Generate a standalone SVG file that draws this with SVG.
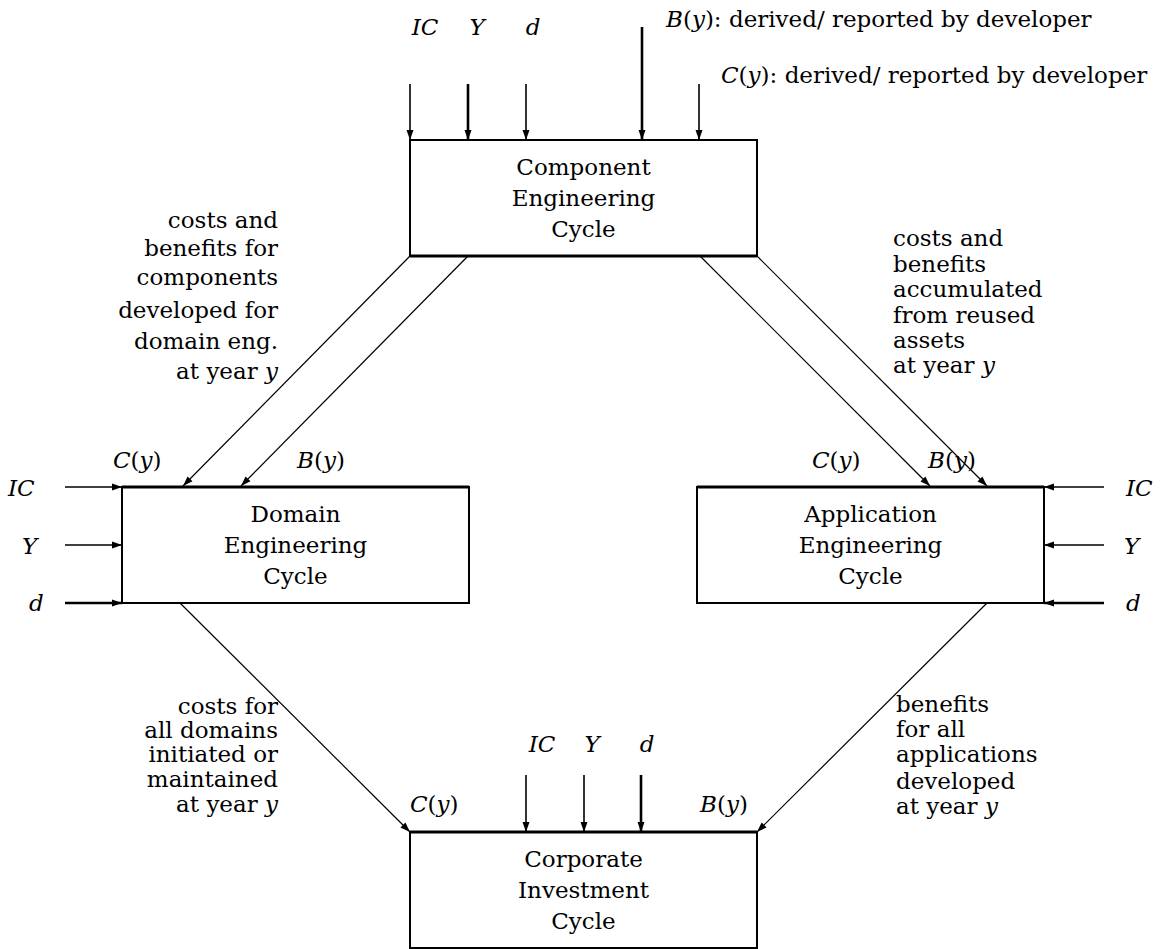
<svg xmlns="http://www.w3.org/2000/svg" width="1164" height="949" viewBox="0 0 1164 949">
<style>
text{font-family:"DejaVu Serif","Liberation Serif",serif;font-size:23px;fill:#000}
.m{font-style:italic}
.box{fill:#fff;stroke:#000;stroke-width:2}
.top{stroke:#000;stroke-width:3}
.in{stroke:#000;stroke-width:1.6;fill:none}
.thk{stroke-width:2.6}
.dg{stroke:#000;stroke-width:1.2;fill:none}
.c{text-anchor:middle}
.r{text-anchor:end}
</style>
<defs>
<marker id="ah" viewBox="0 0 10 10" refX="10" refY="5" markerWidth="10" markerHeight="10" markerUnits="userSpaceOnUse" orient="auto">
<path d="M0,1.5 L10,5 L0,8.5 Z" fill="#000"/>
</marker>
</defs>

<g id="connectors">
<line class="in" x1="410" y1="84" x2="410" y2="140" marker-end="url(#ah)"/>
<line class="in thk" x1="468" y1="84" x2="468" y2="140" marker-end="url(#ah)"/>
<line class="in" x1="526" y1="84" x2="526" y2="140" marker-end="url(#ah)"/>
<line class="in thk" x1="642" y1="27" x2="642" y2="140" marker-end="url(#ah)"/>
<line class="in" x1="699" y1="84" x2="699" y2="140" marker-end="url(#ah)"/>
<line class="dg" x1="410" y1="256" x2="183" y2="486" marker-end="url(#ah)"/>
<line class="dg" x1="468" y1="256" x2="241" y2="486" marker-end="url(#ah)"/>
<line class="dg" x1="700" y1="256" x2="930" y2="486" marker-end="url(#ah)"/>
<line class="dg" x1="757" y1="256" x2="987" y2="486" marker-end="url(#ah)"/>
<line class="dg" x1="180" y1="603" x2="410" y2="832" marker-end="url(#ah)"/>
<line class="dg" x1="987" y1="603" x2="757" y2="832" marker-end="url(#ah)"/>
<line class="in" x1="65" y1="487" x2="122" y2="487" marker-end="url(#ah)"/>
<line class="in" x1="65" y1="545" x2="122" y2="545" marker-end="url(#ah)"/>
<line class="in thk" x1="65" y1="603" x2="122" y2="603" marker-end="url(#ah)"/>
<line class="in" x1="1104" y1="487" x2="1044" y2="487" marker-end="url(#ah)"/>
<line class="in" x1="1104" y1="545" x2="1044" y2="545" marker-end="url(#ah)"/>
<line class="in thk" x1="1104" y1="603" x2="1044" y2="603" marker-end="url(#ah)"/>
<line class="in" x1="526" y1="775" x2="526" y2="832" marker-end="url(#ah)"/>
<line class="in" x1="584" y1="775" x2="584" y2="832" marker-end="url(#ah)"/>
<line class="in thk" x1="641" y1="775" x2="641" y2="832" marker-end="url(#ah)"/>
</g>

<g id="component">
<rect class="box" x="410" y="140" width="347" height="116"/>
<line class="top" x1="410" y1="256" x2="757" y2="256"/>
<text class="c" x="583.5" y="175">Component</text>
<text class="c" x="583.5" y="206">Engineering</text>
<text class="c" x="583.5" y="237">Cycle</text>
</g>

<g id="domain">
<rect class="box" x="122" y="487" width="347" height="116"/>
<line class="top" x1="122" y1="487" x2="469" y2="487"/>
<text class="c" x="295.5" y="522">Domain</text>
<text class="c" x="295.5" y="553">Engineering</text>
<text class="c" x="295.5" y="584">Cycle</text>
</g>

<g id="application">
<rect class="box" x="697" y="487" width="347" height="116"/>
<line class="top" x1="697" y1="487" x2="1044" y2="487"/>
<text class="c" x="870.5" y="522">Application</text>
<text class="c" x="870.5" y="553">Engineering</text>
<text class="c" x="870.5" y="584">Cycle</text>
</g>

<g id="corporate">
<rect class="box" x="410" y="832" width="347" height="116"/>
<line class="top" x1="410" y1="832" x2="757" y2="832"/>
<text class="c" x="583.5" y="867">Corporate</text>
<text class="c" x="583.5" y="898">Investment</text>
<text class="c" x="583.5" y="929">Cycle</text>
</g>

<g id="labels">
<text x="666" y="27"><tspan class="m">B</tspan>(<tspan class="m">y</tspan>): derived/ reported by developer</text>
<text x="721" y="83"><tspan class="m">C</tspan>(<tspan class="m">y</tspan>): derived/ reported by developer</text>
<text class="m c" x="425" y="35">IC</text>
<text class="m c" x="477" y="35">Y</text>
<text class="m c" x="533" y="35">d</text>

<text class="r" x="278" y="228">costs and</text>
<text class="r" x="278" y="256">benefits for</text>
<text class="r" x="278" y="285">components</text>
<text class="r" x="278" y="318">developed for</text>
<text class="r" x="278" y="349">domain eng.</text>
<text class="r" x="278" y="379">at year <tspan class="m">y</tspan></text>

<text x="893" y="246">costs and</text>
<text x="893" y="272">benefits</text>
<text x="893" y="297">accumulated</text>
<text x="893" y="323">from reused</text>
<text x="893" y="348">assets</text>
<text x="893" y="373">at year <tspan class="m">y</tspan></text>

<text x="113" y="468"><tspan class="m">C</tspan>(<tspan class="m">y</tspan>)</text>
<text x="297" y="468"><tspan class="m">B</tspan>(<tspan class="m">y</tspan>)</text>
<text x="812" y="468"><tspan class="m">C</tspan>(<tspan class="m">y</tspan>)</text>
<text x="928" y="468"><tspan class="m">B</tspan>(<tspan class="m">y</tspan>)</text>

<text class="m" x="8" y="496">IC</text>
<text class="m" x="22" y="554">Y</text>
<text class="m" x="29" y="611">d</text>
<text class="m" x="1126" y="496">IC</text>
<text class="m" x="1124" y="554">Y</text>
<text class="m" x="1126" y="611">d</text>

<text class="r" x="278" y="714">costs for</text>
<text class="r" x="278" y="738">all domains</text>
<text class="r" x="278" y="762">initiated or</text>
<text class="r" x="278" y="787">maintained</text>
<text class="r" x="278" y="812">at year <tspan class="m">y</tspan></text>

<text x="896" y="712">benefits</text>
<text x="896" y="737">for all</text>
<text x="896" y="762">applications</text>
<text x="896" y="789">developed</text>
<text x="896" y="814">at year <tspan class="m">y</tspan></text>

<text class="m c" x="542" y="752">IC</text>
<text class="m c" x="592" y="752">Y</text>
<text class="m c" x="647" y="752">d</text>
<text x="410" y="812"><tspan class="m">C</tspan>(<tspan class="m">y</tspan>)</text>
<text x="700" y="812"><tspan class="m">B</tspan>(<tspan class="m">y</tspan>)</text>
</g>
</svg>
